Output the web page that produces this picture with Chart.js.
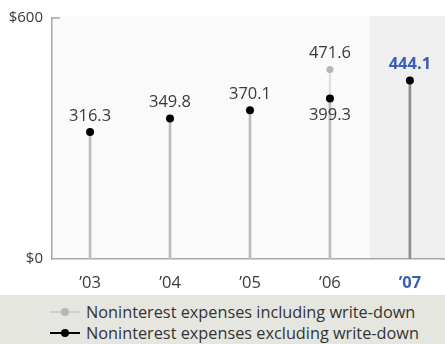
<!DOCTYPE html>
<html>
<head>
<meta charset="utf-8">
<script src="https://cdn.jsdelivr.net/npm/chart.js@4/dist/chart.umd.min.js"></script>
<style>
  html, body { margin: 0; padding: 0; background: #ffffff; }
  #wrap { width: 445px; height: 344px; position: relative; overflow: hidden; }
  #chartBox { width: 445px; height: 295px; position: relative; }
  #legend { width: 445px; height: 49px; background: #e6e6e1; box-sizing: border-box; padding-top: 6px;
            font-family: "Open Sans", sans-serif; font-size: 16.3px; color: #333; }
  .row { height: 21px; display: flex; align-items: center; }
  .mark { width: 30px; margin-left: 50px; margin-right: 6px; position: relative; height: 21px; }
  .mark .ln { position: absolute; left: 0; right: 0; top: 10px; height: 2px; }
  .mark .dt { position: absolute; left: 11px; top: 7px; width: 8px; height: 8px; border-radius: 50%; }
</style>
</head>
<body>
<div id="wrap">
  <div id="chartBox"><canvas id="c"></canvas></div>
  <div id="legend"></div>
</div>
<script>
// Noninterest expenses, $ millions
const categories = ['\u201903', '\u201904', '\u201905', '\u201906', '\u201907'];
const excludingWriteDown = [316.3, 349.8, 370.1, 399.3, 444.1];
const includingWriteDown = [null, null, null, 471.6, null];
const yTickValues = [0, 600];
const seriesNames = ['Noninterest expenses including write-down', 'Noninterest expenses excluding write-down'];

const highlightIndex = 4;
const blue = '#3b5fb6';
const textGrey = '#3a3a3a';
const fontFamily = '"Open Sans", sans-serif';

const toPoints = arr => arr.map((v, i) => v === null ? null : { x: i, y: v }).filter(p => p);

// Shaded column behind the latest year, plus plot background
const backdrop = {
  id: 'backdrop',
  beforeDraw(chart) {
    const { ctx, chartArea, scales } = chart;
    ctx.save();
    ctx.fillStyle = '#fafafa';
    ctx.fillRect(chartArea.left, chartArea.top - 2, chart.width - chartArea.left, chartArea.bottom - chartArea.top + 2);
    const xs = scales.x.getPixelForValue(highlightIndex - 0.5);
    ctx.fillStyle = '#efefef';
    ctx.fillRect(xs, chartArea.top - 2, chart.width - xs, chartArea.bottom - chartArea.top + 2);
    ctx.restore();
  },
  afterDraw(chart) {
    const { ctx, scales, chartArea } = chart;
    ctx.save();
    ctx.strokeStyle = '#a8a8a8';
    ctx.lineWidth = 1.5;
    // short inward tick at the top of the value axis
    const y = scales.y.getPixelForValue(yTickValues[yTickValues.length - 1]);
    const x = scales.y.right;
    ctx.beginPath();
    ctx.moveTo(x, y);
    ctx.lineTo(x + 8, y);
    // carry the baseline to the right edge of the canvas
    const yb = scales.y.getPixelForValue(0);
    ctx.moveTo(chartArea.right, yb);
    ctx.lineTo(chart.width, yb);
    ctx.stroke();
    ctx.restore();
  }
};

// Value labels next to the points
const valueLabels = {
  id: 'valueLabels',
  afterDatasetsDraw(chart) {
    const { ctx } = chart;
    ctx.save();
    ctx.textAlign = 'center';
    ctx.textBaseline = 'middle';
    chart.data.datasets.forEach((ds, di) => {
      if (!ds.labelPoints) return;
      const meta = chart.getDatasetMeta(di);
      meta.data.forEach((pt, i) => {
        const raw = ds.data[i];
        const idx = raw.x;
        const below = ds.labelBelow && ds.labelBelow.includes(idx);
        const hl = idx === highlightIndex;
        ctx.font = (hl ? 'bold ' : '') + '16.5px ' + fontFamily;
        ctx.fillStyle = hl ? blue : textGrey;
        ctx.fillText(raw.y.toFixed(1), pt.x, pt.y + (below ? 17 : -16));
      });
    });
    ctx.restore();
  }
};

const stemColors = excludingWriteDown.map((v, i) => i === highlightIndex ? '#8c8c8c' : '#bcbcbc');

new Chart(document.getElementById('c'), {
  type: 'bar',
  data: {
    datasets: [
      {
        type: 'line', label: seriesNames[1], data: toPoints(excludingWriteDown),
        showLine: false, pointRadius: 4, pointBackgroundColor: '#000', pointBorderColor: '#000',
        pointBorderWidth: 0, order: 1, labelPoints: true, labelBelow: [3]
      },
      {
        type: 'line', label: seriesNames[0], data: toPoints(includingWriteDown),
        showLine: false, pointRadius: 3.5, pointBackgroundColor: '#b4b4b4', pointBorderColor: '#b4b4b4',
        pointBorderWidth: 0, order: 2, labelPoints: true
      },
      {
        label: seriesNames[1] + ' stem', data: toPoints(excludingWriteDown),
        backgroundColor: stemColors, barThickness: 2, grouped: false, order: 3
      },
      {
        label: seriesNames[0] + ' stem', data: toPoints(includingWriteDown),
        backgroundColor: '#dedede', barThickness: 1.5, grouped: false, order: 4
      }
    ]
  },
  options: {
    responsive: true,
    maintainAspectRatio: false,
    animation: false,
    events: [],
    layout: { padding: { top: 16, right: 0, left: 0, bottom: 0 } },
    plugins: { legend: { display: false }, tooltip: { enabled: false } },
    scales: {
      x: {
        type: 'linear',
        offset: false,
        min: -0.476,
        max: 4.389,
        afterBuildTicks(scale) { scale.ticks = categories.map((c, i) => ({ value: i })); },
        grid: { display: false, drawTicks: false, offset: false },
        border: { color: '#a8a8a8', width: 1.5 },
        ticks: {
          padding: 14,
          autoSkip: false,
          maxRotation: 0,
          callback: v => categories[v],
          color: ctx => ctx.index === highlightIndex ? blue : textGrey,
          font: ctx => ({ family: fontFamily, size: 16.5, weight: ctx.index === highlightIndex ? 'bold' : 'normal' })
        },
        afterFit(scale) { scale.height = 36; }
      },
      y: {
        min: 0,
        max: 600,
        afterBuildTicks(scale) { scale.ticks = yTickValues.map(v => ({ value: v })); },
        grid: { display: false, drawTicks: false },
        border: { color: '#a8a8a8', width: 1.5 },
        ticks: {
          padding: 9,
          callback: v => '$' + v,
          color: textGrey,
          font: { family: fontFamily, size: 15 }
        },
        afterFit(scale) { scale.width = 52; }
      }
    }
  },
  plugins: [backdrop, valueLabels]
});

// Legend rows built from the series names
const legendSpec = [
  { name: seriesNames[0], line: '#cfcfcf', dot: '#b4b4b4' },
  { name: seriesNames[1], line: '#000000', dot: '#000000' }
];
const legend = document.getElementById('legend');
legendSpec.forEach(s => {
  const row = document.createElement('div');
  row.className = 'row';
  row.innerHTML = '<span class="mark"><span class="ln" style="background:' + s.line + '"></span>' +
    '<span class="dt" style="background:' + s.dot + '"></span></span><span></span>';
  row.lastChild.textContent = s.name;
  legend.appendChild(row);
});
</script>
</body>
</html>
